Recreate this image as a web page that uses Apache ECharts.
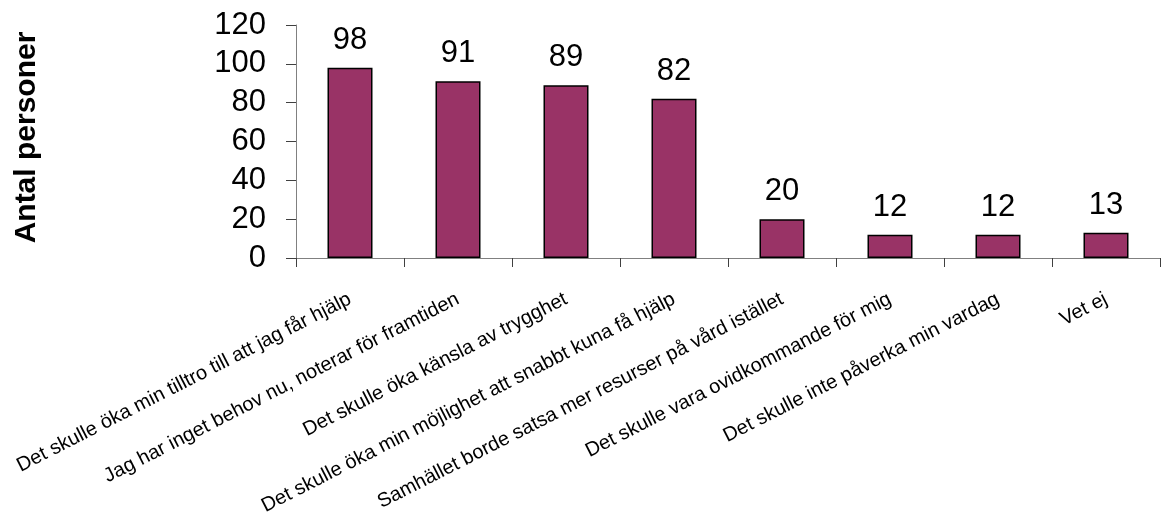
<!DOCTYPE html>
<html>
<head>
<meta charset="utf-8">
<script src="https://cdn.jsdelivr.net/npm/echarts@6/dist/echarts.min.js"></script>
<style>
  html, body { margin: 0; padding: 0; background: #fff; }
  #chart { width: 1165px; height: 521px; }
</style>
</head>
<body>
<div id="chart"></div>
<script>
const categories = [
    'Det skulle öka min tilltro till att jag får hjälp',
    'Jag har inget behov nu, noterar för framtiden',
    'Det skulle öka känsla av trygghet',
    'Det skulle öka min möjlighet att snabbt kuna få hjälp',
    'Samhället borde satsa mer resurser på vård istället',
    'Det skulle vara ovidkommande för mig',
    'Det skulle inte påverka min vardag',
    'Vet ej',
]
const values = [98, 91, 89, 82, 20, 12, 12, 13]
const yAxisName = 'Antal personer'

const font = 'Liberation Sans, Arial, sans-serif'
const chart = echarts.init(document.getElementById('chart'), null, { renderer: 'canvas' })
chart.setOption({
    animation: false,
    grid: {
        left: 296,
        right: 5,
        top: 25,
        bottom: 263,
        containLabel: false,
    },
    xAxis: {
        type: 'category',
        data: categories,
        axisLine: { lineStyle: { color: '#808080', width: 1 } },
        axisTick: { show: true, length: 9, lineStyle: { color: '#404040' } },
        axisLabel: {
            interval: 0,
            rotate: 27,
            margin: 40,
            color: '#000',
            fontFamily: font,
            fontSize: 20,
        },
    },
    yAxis: {
        type: 'value',
        min: 0,
        max: 120,
        interval: 20,
        name: yAxisName,
        nameLocation: 'middle',
        nameGap: 254,
        nameTextStyle: {
            color: '#000',
            fontFamily: font,
            fontSize: 30,
            fontWeight: 'bold',
            padding: [0, 0, 0, 8],
        },
        splitLine: { show: false },
        axisLine: { show: true, lineStyle: { color: '#808080', width: 1 } },
        axisTick: { show: true, length: 10, lineStyle: { color: '#404040' } },
        axisLabel: {
            margin: 30,
            color: '#000',
            fontFamily: font,
            fontSize: 31,
        },
    },
    series: [
        {
            type: 'bar',
            data: values,
            barWidth: 45,
            itemStyle: {
                color: '#993366',
                borderColor: '#000',
                borderWidth: 1.5,
            },
            label: {
                show: true,
                position: 'top',
                distance: 12,
                color: '#000',
                fontFamily: font,
                fontSize: 31,
            },
        },
    ],
})
</script>
</body>
</html>
